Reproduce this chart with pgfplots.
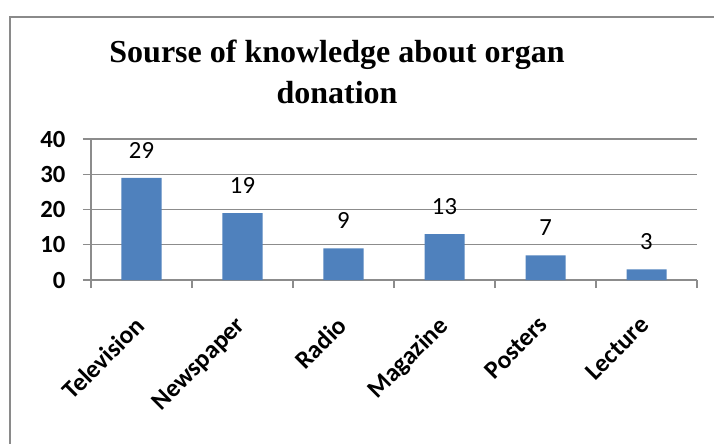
\documentclass[border=0pt]{standalone}
\usepackage{pgfplots}
\pgfplotsset{compat=1.18}
\usepackage{fontspec}
\setmainfont{Carlito}
\newfontfamily\titlefont{Liberation Serif}
\definecolor{barblue}{HTML}{4F81BD}
\definecolor{gridgray}{HTML}{8C8C8C}
\definecolor{framegray}{HTML}{8A8A8A}
\begin{document}
\begin{tikzpicture}
\useasboundingbox (0,0) rectangle (535.5pt,333pt);
\fill[framegray] (6.9pt,0pt) rectangle (8.1pt,320.85pt);
\fill[framegray] (6.9pt,319.65pt) rectangle (535.5pt,320.85pt);
\node[anchor=base, inner sep=0pt, font=\titlefont\bfseries\fontsize{24}{28}\selectfont] at (252.75pt,286.5pt) {Sourse of knowledge about organ};
\node[anchor=base, inner sep=0pt, font=\titlefont\bfseries\fontsize{24}{28}\selectfont] at (252.75pt,255.75pt) {donation};
\begin{axis}[
  at={(68.25pt,123pt)}, anchor=south west,
  scale only axis, width=454.5pt, height=105.75pt,
  xmin=-0.5, xmax=5.5, ymin=0, ymax=40,
  axis x line*=bottom, axis y line*=left,
  axis line style={gridgray, line width=0.8pt},
  ytick={0,10,20,30,40},
  ymajorgrids, grid style={gridgray, line width=0.8pt},
  xtick={-0.5,0.5,1.5,2.5,3.5,4.5,5.5}, xticklabels={},
  tick align=outside, major tick length=6pt,
  tick style={gridgray, line width=0.8pt},
  extra x ticks={0,1,2,3,4,5},
  extra x tick labels={Television,Newspaper,Radio,Magazine,Posters,Lecture},
  extra x tick style={major tick length=0pt},
  xticklabel style={yshift=-26pt, xshift=-6pt, rotate=45, anchor=north east, inner sep=0pt, font=\bfseries\fontsize{19}{21}\selectfont},
  yticklabel style={anchor=east, inner sep=0pt, font=\bfseries\fontsize{18.5}{20}\selectfont, xshift=-13pt},
  /pgf/number format/assume math mode=true,
  ybar, bar width=30pt,
  nodes near coords,
  every node near coord/.append style={font=\fontsize{18.5}{20}\selectfont, inner sep=0pt, anchor=south, yshift=14.6pt, black},
]
\addplot[fill=barblue, draw=none] coordinates {(0,29) (1,19) (2,9) (3,13) (4,7) (5,3)};
\end{axis}
\end{tikzpicture}
\end{document}
